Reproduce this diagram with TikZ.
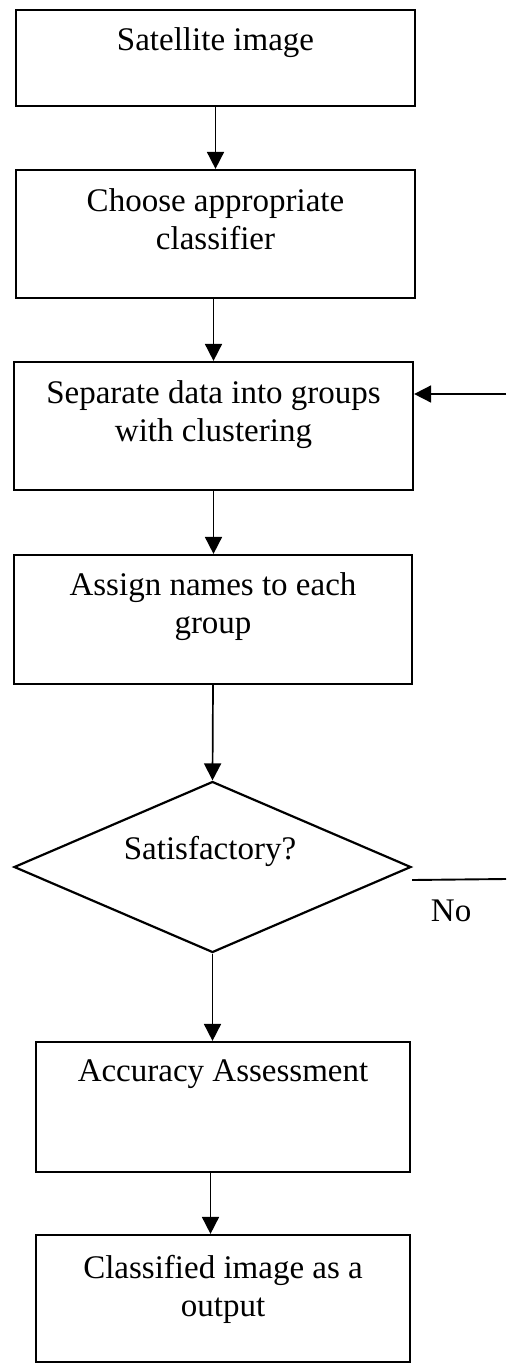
\documentclass[tikz,border=0pt]{standalone}
\usepackage{fontspec}
\setmainfont{Liberation Serif}
\usetikzlibrary{arrows.meta,shapes.geometric}

\tikzset{
  stepbox/.style={draw, line width=2.2pt, rectangle, inner sep=0pt},
  decision/.style={draw, line width=2.2pt, diamond, inner sep=0pt},
  caption/.style={anchor=north, inner sep=0pt, align=center,
                  font=\fontsize{33}{38}\selectfont},
  flow/.style={line width=1.7pt, -{Triangle[width=17pt,length=17pt]}},
  plain/.style={line width=1.9pt}
}

\begin{document}
\begin{tikzpicture}[x=1pt,y=-1pt]
  \useasboundingbox (0,0) rectangle (506,1365);
  \fill[white] (0,0) rectangle (506,1365);

  % process boxes
  \node[stepbox, minimum width=399pt, minimum height=96pt]  (b1) at (215.5,58)   {};
  \node[stepbox, minimum width=399pt, minimum height=128pt] (b2) at (215.5,234)  {};
  \node[stepbox, minimum width=399pt, minimum height=128pt] (b3) at (213.5,426)  {};
  \node[stepbox, minimum width=398pt, minimum height=129pt] (b4) at (213,619.5)  {};
  \node[decision, minimum width=397pt, minimum height=171pt] (d) at (212.5,867) {};
  \node[stepbox, minimum width=374pt, minimum height=130pt] (b5) at (223,1107)   {};
  \node[stepbox, minimum width=374pt, minimum height=127pt] (b6) at (223,1298.5) {};

  % box texts
  \node[caption] (t1) at ([yshift=-19pt]b1.north) {Satellite image};
  \node[caption] (t2) at ([yshift=-19pt]b2.north) {Choose appropriate\\classifier};
  \node[caption] (t3) at ([yshift=-19pt]b3.north) {Separate data into groups\\with clustering};
  \node[caption] (t4) at ([yshift=-18pt]b4.north) {Assign names to each\\group};
  \node[caption] (td) at (210,836) {Satisfactory?};
  \node[caption] (t5) at ([yshift=-19pt]b5.north) {Accuracy Assessment};
  \node[caption] (t6) at ([yshift=-21pt]b6.north) {Classified image as a\\output};

  % loop-back ends at the right margin
  \coordinate (noend) at (506,879);
  \coordinate (fbend) at (506,394);

  % main flow
  \draw[flow] (b1.south) -- (b2.north);
  \draw[flow] (b2.south -| b3.north) -- (b3.north);
  \draw[flow] (b3.south) -- (b3.south |- b4.north);
  \draw[flow] (b4.south) -- (d.north);
  \draw[flow] (d.south) -- (d.south |- b5.north);
  \draw[flow] ([xshift=-2pt]b5.south -| d.south) -- ([xshift=-2pt]d.south |- b6.north);

  % "No" branch back to clustering
  \draw[plain] ([yshift=-13pt]d.east) -- (noend);
  \node[anchor=base, inner sep=0pt, font=\fontsize{33}{38}\selectfont] (no)
    at ([xshift=39pt,yshift=-54pt]d.east) {No};
  \draw[flow] (fbend) -- (b3.east |- fbend);
\end{tikzpicture}
\end{document}
